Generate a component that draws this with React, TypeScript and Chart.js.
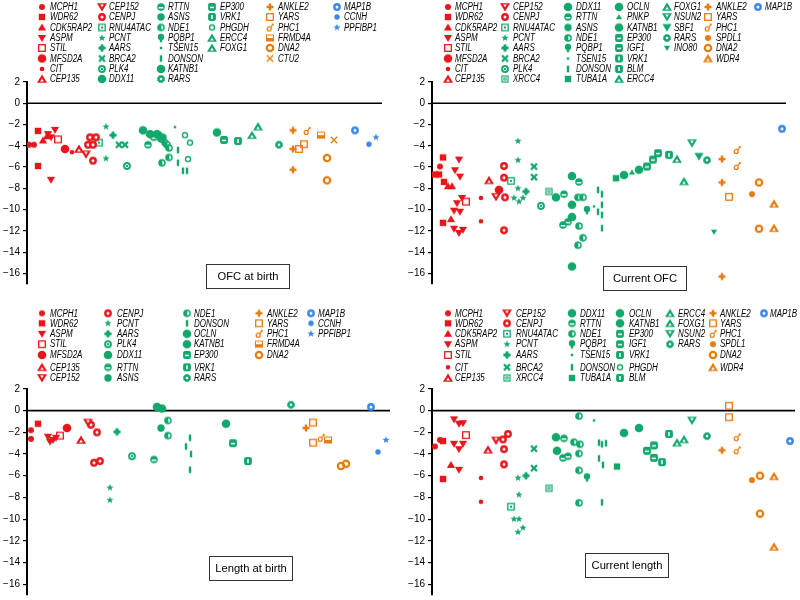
import React, { useEffect, useRef } from 'react';
import { Chart, registerables } from 'chart.js';
Chart.register(...registerables);

const RED = '#e8161b';
const GREEN = '#12a86c';
const ORANGE = '#e97b0c';
const BLUE = '#3a88e8';

const Y_TICKS = [2, 0, -2, -4, -6, -8, -10, -12, -14, -16];

type Pt = [string, number, number];

// [gene, position along row, z-score]
const OFC_BIRTH: Pt[] = [
  ['MCPH1', 2, -3.9], ['MCPH1', 7, -3.9],
  ['WDR62', 11, -2.6], ['WDR62', 11, -5.9],
  ['CDK5RAP2', 16, -3.5], ['CDK5RAP2', 20, -3.1],
  ['ASPM', 28, -2.5], ['ASPM', 21, -2.9], ['ASPM', 24, -3.2], ['ASPM', 24, -7.2],
  ['STIL', 31, -3.4], ['MFSD2A', 38, -4.3], ['CIT', 45, -4.6], ['CEP135', 52, -4.3], ['CEP152', 59, -4.8],
  ['CENPJ', 63, -3.2], ['CENPJ', 69, -3.2], ['CENPJ', 61, -3.9], ['CENPJ', 66, -3.9], ['CENPJ', 66, -5.4],
  ['RNU4ATAC', 72, -3.7], ['PCNT', 79, -2.2], ['PCNT', 79, -5.2], ['AARS', 86, -3.0],
  ['BRCA2', 92, -3.9], ['BRCA2', 98, -3.9], ['PLK4', 100, -5.9],
  ['DDX11', 116, -2.55], ['DDX11', 123, -2.9], ['DDX11', 130, -2.9],
  ['RTTN', 121, -3.9], ['RTTN', 127, -3.2],
  ['ASNS', 125, -3.0], ['ASNS', 132, -3.0], ['ASNS', 136, -3.2],
  ['NDE1', 134, -3.35], ['NDE1', 138, -3.7], ['NDE1', 140, -3.9], ['NDE1', 142, -4.2], ['NDE1', 142, -5.1], ['NDE1', 135, -5.6],
  ['TSEN15', 148, -2.25],
  ['DONSON', 151, -4.4], ['DONSON', 151, -5.6], ['DONSON', 156, -6.35], ['DONSON', 160, -6.35],
  ['PHGDH', 158, -3.0], ['PHGDH', 163, -3.7], ['PHGDH', 161, -5.25],
  ['KATNB1', 190, -2.75], ['EP300', 197, -3.45], ['VRK1', 211, -3.55], ['ERCC4', 225, -3.0], ['FOXG1', 231, -2.2],
  ['RARS', 252, -3.9],
  ['ANKLE2', 266, -2.55], ['ANKLE2', 266, -4.3], ['ANKLE2', 266, -6.25],
  ['YARS', 272, -4.3], ['YARS', 277, -3.85], ['PHC1', 280, -2.6], ['FRMD4A', 294, -3.0],
  ['DNA2', 300, -5.15], ['DNA2', 300, -7.25], ['CTU2', 307, -3.45],
  ['MAP1B', 328, -2.55], ['CCNH', 342, -3.85], ['PPFIBP1', 349, -3.2],
];

const CURRENT_OFC: Pt[] = [
  ['MCPH1', 8, -5.95],
  ['WDR62', 11, -5.1], ['WDR62', 3, -6.7], ['WDR62', 7, -6.7], ['WDR62', 12, -7.4], ['WDR62', 11, -11.25],
  ['CDK5RAP2', 16, -7.8], ['CDK5RAP2', 20, -7.8], ['CDK5RAP2', 19, -10.9],
  ['ASPM', 27, -5.3], ['ASPM', 23, -6.3], ['ASPM', 28, -6.9], ['ASPM', 30, -8.9], ['ASPM', 25, -9.4],
  ['ASPM', 22, -10.1], ['ASPM', 28, -10.2], ['ASPM', 22, -11.8], ['ASPM', 27, -12.2], ['ASPM', 31, -11.9],
  ['STIL', 34, -9.25], ['CIT', 49, -8.9], ['CIT', 49, -11.1], ['CEP135', 57, -7.25], ['CEP152', 64, -8.8],
  ['MFSD2A', 67, -8.15],
  ['CENPJ', 72, -5.9], ['CENPJ', 72, -7.0], ['CENPJ', 73, -8.85], ['CENPJ', 72, -11.95],
  ['RNU4ATAC', 79, -7.3],
  ['PCNT', 86, -3.55], ['PCNT', 86, -5.35], ['PCNT', 86, -8.0], ['PCNT', 82, -8.9], ['PCNT', 87, -9.25], ['PCNT', 91, -8.9],
  ['AARS', 94, -8.3], ['BRCA2', 102, -5.95], ['BRCA2', 102, -6.95], ['PLK4', 109, -9.65], ['XRCC4', 117, -8.3],
  ['DDX11', 124, -8.85], ['DDX11', 140, -6.85], ['DDX11', 140, -9.55], ['DDX11', 140, -10.7], ['DDX11', 140, -15.35],
  ['RTTN', 132, -8.55], ['RTTN', 147, -7.4], ['RTTN', 136, -11.15], ['RTTN', 131, -11.45],
  ['NDE1', 146, -8.85], ['NDE1', 151, -8.85], ['NDE1', 147, -11.55], ['NDE1', 151, -12.65], ['NDE1', 146, -13.35],
  ['PQBP1', 155, -10.05], ['TSEN15', 162, -9.7],
  ['DONSON', 166, -8.15], ['DONSON', 166, -10.2], ['DONSON', 170, -8.55], ['DONSON', 170, -9.55], ['DONSON', 170, -10.5], ['DONSON', 170, -11.75],
  ['TUBA1A', 184, -7.05], ['OCLN', 192, -6.75], ['PNKP', 200, -6.5], ['KATNB1', 207, -6.25],
  ['EP300', 215, -5.95], ['EP300', 221, -5.3], ['IGF1', 226, -4.7], ['VRK1', 237, -4.85],
  ['ERCC4', 245, -5.25], ['ERCC4', 252, -7.35], ['NSUN2', 260, -3.75], ['SBF1', 267, -5.0], ['RARS', 275, -5.35],
  ['INO80', 282, -12.1],
  ['ANKLE2', 290, -5.25], ['ANKLE2', 290, -7.45], ['ANKLE2', 290, -16.3],
  ['YARS', 297, -8.8], ['PHC1', 305, -4.4], ['PHC1', 305, -5.9], ['SPDL1', 320, -8.55],
  ['DNA2', 327, -7.45], ['DNA2', 327, -11.8], ['WDR4', 342, -9.45], ['WDR4', 342, -11.75],
  ['MAP1B', 350, -2.4],
];

const LENGTH_BIRTH: Pt[] = [
  ['MCPH1', 4, -1.8], ['MCPH1', 4, -2.6], ['WDR62', 11, -1.2],
  ['ASPM', 21, -2.4], ['ASPM', 23, -2.85], ['ASPM', 26, -2.7], ['ASPM', 29, -2.5],
  ['STIL', 33, -2.3], ['MFSD2A', 40, -1.6], ['CEP135', 54, -2.7], ['CEP152', 61, -1.1],
  ['CENPJ', 64, -1.3], ['CENPJ', 70, -2.0], ['CENPJ', 67, -4.8], ['CENPJ', 73, -4.65],
  ['PCNT', 83, -7.1], ['PCNT', 83, -8.25], ['AARS', 90, -1.95], ['PLK4', 105, -4.2],
  ['RTTN', 127, -4.5], ['DDX11', 130, 0.35], ['DDX11', 135, 0.2], ['ASNS', 134, -1.6],
  ['NDE1', 141, -0.9], ['NDE1', 141, -2.3],
  ['DONSON', 163, -2.5], ['DONSON', 159, -3.3], ['DONSON', 164, -4.0], ['DONSON', 163, -5.45],
  ['OCLN', 199, -1.2], ['EP300', 206, -3.0], ['VRK1', 221, -4.65], ['RARS', 264, 0.55],
  ['ANKLE2', 279, -1.6], ['YARS', 286, -1.1], ['YARS', 286, -2.95], ['PHC1', 294, -2.5], ['FRMD4A', 301, -2.7],
  ['DNA2', 314, -5.1], ['DNA2', 319, -4.9],
  ['MAP1B', 344, 0.35], ['CCNH', 351, -3.8], ['PPFIBP1', 359, -2.7],
];

const CURRENT_LENGTH: Pt[] = [
  ['MCPH1', 3, -3.3], ['MCPH1', 8, -2.7], ['WDR62', 11, -2.8], ['WDR62', 11, -6.3], ['CDK5RAP2', 19, -5.0],
  ['ASPM', 22, -0.8], ['ASPM', 27, -1.2], ['ASPM', 31, -1.15], ['ASPM', 22, -3.05], ['ASPM', 27, -3.55], ['ASPM', 31, -3.05], ['ASPM', 27, -5.45],
  ['STIL', 34, -2.25], ['CIT', 49, -6.2], ['CIT', 49, -8.4], ['CEP135', 56, -3.6], ['CEP152', 64, -2.75],
  ['CENPJ', 71, -2.65], ['CENPJ', 76, -2.15], ['CENPJ', 72, -3.55], ['CENPJ', 72, -4.95],
  ['RNU4ATAC', 79, -8.85],
  ['PCNT', 86, -6.2], ['PCNT', 87, -7.75], ['PCNT', 82, -10.0], ['PCNT', 87, -10.0], ['PCNT', 86, -11.2], ['PCNT', 91, -10.8],
  ['AARS', 94, -6.0], ['BRCA2', 102, -3.5], ['BRCA2', 102, -5.3], ['XRCC4', 117, -7.15],
  ['DDX11', 124, -2.45], ['DDX11', 125, -3.7],
  ['RTTN', 132, -2.55], ['RTTN', 131, -4.35], ['RTTN', 136, -4.2],
  ['NDE1', 147, -0.5], ['NDE1', 142, -2.9], ['NDE1', 148, -3.1], ['NDE1', 147, -3.95], ['NDE1', 147, -5.5], ['NDE1', 147, -8.5],
  ['PQBP1', 155, -6.15], ['TSEN15', 162, -0.9],
  ['DONSON', 167, -2.95], ['DONSON', 167, -4.4], ['DONSON', 170, -3.1], ['DONSON', 174, -3.0], ['DONSON', 171, -5.0], ['DONSON', 170, -8.45],
  ['TUBA1A', 185, -5.15], ['OCLN', 192, -2.05], ['KATNB1', 207, -1.6],
  ['EP300', 215, -3.7], ['EP300', 222, -4.35], ['IGF1', 222, -3.2], ['VRK1', 230, -4.75], ['BLM', 237, -2.15],
  ['ERCC4', 245, -2.95], ['FOXG1', 252, -2.65], ['NSUN2', 260, -0.9], ['RARS', 275, -2.35],
  ['ANKLE2', 290, -3.65], ['YARS', 297, 0.45], ['YARS', 297, -0.6], ['PHC1', 305, -2.45], ['PHC1', 305, -3.65],
  ['SPDL1', 320, -6.4], ['DNA2', 328, -6.0], ['DNA2', 328, -9.5], ['WDR4', 342, -6.05], ['WDR4', 342, -12.55],
  ['MAP1B', 358, -2.8],
];

const OFC_BIRTH_LEGEND = [
  ['MCPH1', 'WDR62', 'CDK5RAP2', 'ASPM', 'STIL', 'MFSD2A', 'CIT', 'CEP135'],
  ['CEP152', 'CENPJ', 'RNU4ATAC', 'PCNT', 'AARS', 'BRCA2', 'PLK4', 'DDX11'],
  ['RTTN', 'ASNS', 'NDE1', 'PQBP1', 'TSEN15', 'DONSON', 'KATNB1', 'RARS'],
  ['EP300', 'VRK1', 'PHGDH', 'ERCC4', 'FOXG1'],
  ['ANKLE2', 'YARS', 'PHC1', 'FRMD4A', 'DNA2', 'CTU2'],
  ['MAP1B', 'CCNH', 'PPFIBP1'],
];
const CURRENT_OFC_LEGEND = [
  ['MCPH1', 'WDR62', 'CDK5RAP2', 'ASPM', 'STIL', 'MFSD2A', 'CIT', 'CEP135'],
  ['CEP152', 'CENPJ', 'RNU4ATAC', 'PCNT', 'AARS', 'BRCA2', 'PLK4', 'XRCC4'],
  ['DDX11', 'RTTN', 'ASNS', 'NDE1', 'PQBP1', 'TSEN15', 'DONSON', 'TUBA1A'],
  ['OCLN', 'PNKP', 'KATNB1', 'EP300', 'IGF1', 'VRK1', 'BLM', 'ERCC4'],
  ['FOXG1', 'NSUN2', 'SBF1', 'RARS', 'INO80'],
  ['ANKLE2', 'YARS', 'PHC1', 'SPDL1', 'DNA2', 'WDR4'],
  ['MAP1B'],
];
const LENGTH_BIRTH_LEGEND = [
  ['MCPH1', 'WDR62', 'ASPM', 'STIL', 'MFSD2A', 'CEP135', 'CEP152'],
  ['CENPJ', 'PCNT', 'AARS', 'PLK4', 'DDX11', 'RTTN', 'ASNS'],
  ['NDE1', 'DONSON', 'OCLN', 'KATNB1', 'EP300', 'VRK1', 'RARS'],
  ['ANKLE2', 'YARS', 'PHC1', 'FRMD4A', 'DNA2'],
  ['MAP1B', 'CCNH', 'PPFIBP1'],
];
const CURRENT_LENGTH_LEGEND = [
  ['MCPH1', 'WDR62', 'CDK5RAP2', 'ASPM', 'STIL', 'CIT', 'CEP135'],
  ['CEP152', 'CENPJ', 'RNU4ATAC', 'PCNT', 'AARS', 'BRCA2', 'XRCC4'],
  ['DDX11', 'RTTN', 'NDE1', 'PQBP1', 'TSEN15', 'DONSON', 'TUBA1A'],
  ['OCLN', 'KATNB1', 'EP300', 'IGF1', 'VRK1', 'PHGDH', 'BLM'],
  ['ERCC4', 'FOXG1', 'NSUN2', 'RARS'],
  ['ANKLE2', 'YARS', 'PHC1', 'SPDL1', 'DNA2', 'WDR4'],
  ['MAP1B'],
];

const MARKER_STYLE: Record<string, [string, string]> = {
  MCPH1: ['circle', RED], WDR62: ['square', RED], CDK5RAP2: ['tri', RED], ASPM: ['invtri', RED],
  STIL: ['opensq', RED], MFSD2A: ['big', RED], CIT: ['small', RED], CEP135: ['trihole', RED],
  CEP152: ['invtrihole', RED], CENPJ: ['ringfill', RED],
  RNU4ATAC: ['sqdot', GREEN], PCNT: ['star', GREEN], AARS: ['plus', GREEN], BRCA2: ['xthick', GREEN],
  PLK4: ['ringdot', GREEN], XRCC4: ['xrcc4', GREEN], DDX11: ['big', GREEN], RTTN: ['rttn', GREEN],
  ASNS: ['mid', GREEN], NDE1: ['half', GREEN], PQBP1: ['bulb', GREEN], TSEN15: ['tiny', GREEN],
  DONSON: ['vbar', GREEN], TUBA1A: ['square', GREEN], KATNB1: ['big', GREEN], OCLN: ['big', GREEN],
  PNKP: ['smalltri', GREEN], RARS: ['octadot', GREEN], EP300: ['rsqh', GREEN], IGF1: ['rsqh', GREEN],
  VRK1: ['rsqv', GREEN], BLM: ['rsqv', GREEN], PHGDH: ['ring', GREEN], ERCC4: ['trihole', GREEN],
  FOXG1: ['trihole', GREEN], NSUN2: ['invtrihole', GREEN], SBF1: ['biginvtri', GREEN], INO80: ['smallinvtri', GREEN],
  ANKLE2: ['diamondplus', ORANGE], YARS: ['opensq', ORANGE], PHC1: ['male', ORANGE], FRMD4A: ['halfsq', ORANGE],
  DNA2: ['thickring', ORANGE], CTU2: ['xthin', ORANGE], SPDL1: ['circle', ORANGE], WDR4: ['trihole', ORANGE],
  MAP1B: ['ringfill', BLUE], CCNH: ['small2', BLUE], PPFIBP1: ['star', BLUE],
};

const TOP_ROWS = [7, 17, 27.5, 38, 48, 58.5, 69, 79];
const BOTTOM_ROWS = [13.3, 23.3, 33.8, 44.2, 55, 67.3, 78];

const PANELS = [
  { title: 'OFC at birth', data: OFC_BIRTH, legend: OFC_BIRTH_LEGEND, left: 0, top: 0, axisX: 27, areaTop: 82, areaBottom: 284, xMax: 355,
    rows: TOP_ROWS, mx: [42, 102, 161, 212, 270, 337], tx: [50, 109, 168, 220, 278, 344], box: [247, 264] },
  { title: 'Current OFC', data: CURRENT_OFC, legend: CURRENT_OFC_LEGEND, left: 400, top: 0, axisX: 32, areaTop: 82, areaBottom: 284, xMax: 354,
    rows: TOP_ROWS, mx: [48, 105, 168, 219, 267, 308, 358], tx: [55, 113, 176, 227, 274, 316, 365], box: [244, 266] },
  { title: 'Length at birth', data: LENGTH_BIRTH, legend: LENGTH_BIRTH_LEGEND, left: 0, top: 300, axisX: 27, areaTop: 89, areaBottom: 297, xMax: 363,
    rows: BOTTOM_ROWS, mx: [42, 108, 187, 259, 311], tx: [50, 117, 194, 267, 318], box: [250, 256] },
  { title: 'Current length', data: CURRENT_LENGTH, legend: CURRENT_LENGTH_LEGEND, left: 400, top: 300, axisX: 32, areaTop: 89, areaBottom: 297, xMax: 363,
    rows: BOTTOM_ROWS, mx: [48, 107, 172, 220, 270, 313, 364], tx: [55, 116, 180, 229, 278, 320, 370], box: [226, 253] },
];

function poly(g: CanvasRenderingContext2D, pts: number[][]) {
  g.beginPath();
  pts.forEach(([x, y], i) => (i ? g.lineTo(x, y) : g.moveTo(x, y)));
  g.closePath();
}
function disc(g: CanvasRenderingContext2D, x: number, y: number, r: number) {
  g.beginPath();
  g.arc(x, y, r, 0, Math.PI * 2);
}
function starPts(ro: number, ri: number) {
  const p: number[][] = [];
  for (let i = 0; i < 10; i++) {
    const a = -Math.PI / 2 + (i * Math.PI) / 5;
    const r = i % 2 ? ri : ro;
    p.push([Math.cos(a) * r, Math.sin(a) * r]);
  }
  return p;
}

function drawShape(g: CanvasRenderingContext2D, shape: string, color: string) {
  g.fillStyle = color;
  g.strokeStyle = color;
  const W = '#ffffff';
  switch (shape) {
    case 'circle': disc(g, 0, 0, 3); g.fill(); break;
    case 'big': disc(g, 0, 0, 4.3); g.fill(); break;
    case 'mid': disc(g, 0, 0, 3.7); g.fill(); break;
    case 'small': disc(g, 0, 0, 2.3); g.fill(); break;
    case 'small2': disc(g, 0, 0, 2.7); g.fill(); break;
    case 'tiny': g.fillRect(-1.2, -1.2, 2.4, 2.4); break;
    case 'square': g.fillRect(-3.2, -3.2, 6.4, 6.4); break;
    case 'tri': poly(g, [[0, -3.9], [4.1, 3], [-4.1, 3]]); g.fill(); break;
    case 'smalltri': poly(g, [[0, -2.9], [3.1, 2.3], [-3.1, 2.3]]); g.fill(); break;
    case 'invtri': poly(g, [[-4.1, -3], [4.1, -3], [0, 3.9]]); g.fill(); break;
    case 'biginvtri': poly(g, [[-4.6, -3.4], [4.6, -3.4], [0, 4.3]]); g.fill(); break;
    case 'smallinvtri': poly(g, [[-3.1, -2.3], [3.1, -2.3], [0, 2.9]]); g.fill(); break;
    case 'trihole':
      poly(g, [[0, -4.6], [5, 3.8], [-5, 3.8]]); g.fill();
      g.fillStyle = W; poly(g, [[0, -0.2], [1.8, 2.4], [-1.8, 2.4]]); g.fill(); break;
    case 'invtrihole':
      poly(g, [[-5, -3.8], [5, -3.8], [0, 4.6]]); g.fill();
      g.fillStyle = W; poly(g, [[-1.8, -2.4], [1.8, -2.4], [0, 0.2]]); g.fill(); break;
    case 'ringfill':
      disc(g, 0, 0, 3.9); g.fill(); g.fillStyle = W; disc(g, 0, 0, 1.5); g.fill(); break;
    case 'sqdot':
      g.lineWidth = 1.3; g.strokeRect(-3.2, -3.2, 6.4, 6.4); g.fillRect(-1, -1, 2, 2); break;
    case 'opensq':
      g.lineWidth = 1.3; g.strokeRect(-3.3, -3.3, 6.6, 6.6); break;
    case 'star': poly(g, starPts(3.8, 1.6)); g.fill(); break;
    case 'plus':
      g.fillRect(-3.6, -1.4, 7.2, 2.8); g.fillRect(-1.4, -3.6, 2.8, 7.2); disc(g, 0, 0, 2.3); g.fill(); break;
    case 'diamondplus':
      g.fillRect(-3.5, -1.2, 7, 2.4); g.fillRect(-1.2, -3.5, 2.4, 7);
      poly(g, [[0, -2.6], [2.6, 0], [0, 2.6], [-2.6, 0]]); g.fill(); break;
    case 'xthick':
      g.lineWidth = 2.4; g.beginPath(); g.moveTo(-3, -3); g.lineTo(3, 3); g.moveTo(3, -3); g.lineTo(-3, 3); g.stroke(); break;
    case 'xthin':
      g.lineWidth = 1.3; g.beginPath(); g.moveTo(-3.2, -3.2); g.lineTo(3.2, 3.2); g.moveTo(3.2, -3.2); g.lineTo(-3.2, 3.2); g.stroke(); break;
    case 'ringdot':
      disc(g, 0, 0, 3.9); g.fill(); g.strokeStyle = W; g.lineWidth = 0.9; disc(g, 0, 0, 1.7); g.stroke(); break;
    case 'rttn':
      disc(g, 0, 0, 3.8); g.fill(); g.fillStyle = W; g.fillRect(-2.3, 0, 4.6, 1.5); break;
    case 'half':
      disc(g, 0, 0, 3.8); g.fill(); g.fillStyle = W; g.beginPath(); g.arc(0.3, 0, 2.1, -Math.PI / 2, Math.PI / 2); g.closePath(); g.fill(); break;
    case 'bulb':
      disc(g, 0, -1, 3.2); g.fill(); g.fillRect(-1.2, 1, 2.4, 3.3); break;
    case 'vbar': g.fillRect(-1.2, -3.3, 2.4, 6.6); break;
    case 'rsqh':
      g.beginPath(); g.roundRect(-3.9, -3.9, 7.8, 7.8, 1.8); g.fill();
      g.fillStyle = W; g.fillRect(-2, -0.3, 4, 1.5); break;
    case 'rsqv':
      g.beginPath(); g.roundRect(-3.9, -3.9, 7.8, 7.8, 1.8); g.fill();
      g.fillStyle = W; g.fillRect(-0.75, -2, 1.5, 4); break;
    case 'ring': g.lineWidth = 1.4; disc(g, 0, 0, 2.5); g.stroke(); break;
    case 'octadot': {
      const p: number[][] = [];
      for (let i = 0; i < 8; i++) { const a = Math.PI / 8 + (i * Math.PI) / 4; p.push([Math.cos(a) * 4, Math.sin(a) * 4]); }
      poly(g, p); g.fill(); g.fillStyle = W; disc(g, 0, 0, 1.3); g.fill(); break;
    }
    case 'halfsq':
      g.lineWidth = 1; g.strokeRect(-3.5, -3, 7, 6); g.fillRect(-3.5, 0, 7, 3); break;
    case 'thickring': g.lineWidth = 2.2; disc(g, 0, 0, 3.2); g.stroke(); break;
    case 'male':
      g.lineWidth = 1.2; disc(g, -0.8, 1.4, 2); g.stroke();
      g.beginPath(); g.moveTo(0.6, -0.1); g.lineTo(2.6, -2.6); g.stroke();
      disc(g, 2.8, -2.9, 1.1); g.fill(); break;
    case 'xrcc4':
      g.fillRect(-3.6, -3.6, 7.2, 7.2); g.strokeStyle = W; g.lineWidth = 0.9;
      g.strokeRect(-2, -2, 4, 4); g.fillStyle = W; g.fillRect(-0.6, -0.6, 1.2, 1.2); break;
    default: disc(g, 0, 0, 3); g.fill();
  }
}

const markerCache = new Map<string, HTMLCanvasElement>();
function markerImage(gene: string): HTMLCanvasElement {
  const [shape, color] = MARKER_STYLE[gene] || ['circle', '#888'];
  const key = shape + color;
  const hit = markerCache.get(key);
  if (hit) return hit;
  const c = document.createElement('canvas');
  c.width = 16; c.height = 16;
  const g = c.getContext('2d')!;
  g.translate(8, 8);
  drawShape(g, shape, color);
  markerCache.set(key, c);
  return c;
}

const fmt = (v: number) => (v < 0 ? '\u2212' + Math.abs(v) : String(v));

function Panel({ cfg }: { cfg: typeof PANELS[number] }) {
  const ref = useRef<HTMLCanvasElement>(null);
  useEffect(() => {
    const genes: string[] = [];
    cfg.data.forEach(([g]) => { if (!genes.includes(g)) genes.push(g); });
    const datasets: any[] = genes.map((g) => ({
      label: g,
      data: cfg.data.filter((p) => p[0] === g).map((p) => ({ x: p[1], y: p[2] })),
      pointStyle: markerImage(g),
      pointRadius: 4,
      order: 1,
    }));
    datasets.push({
      label: 'zero',
      data: [{ x: 0, y: 0 }, { x: cfg.xMax, y: 0 }],
      showLine: true, borderColor: '#000', borderWidth: 1.7, pointRadius: 0, order: 100,
    });
    const overlay = {
      id: 'overlay',
      afterDraw(chart: any) {
        const ctx = chart.ctx as CanvasRenderingContext2D;
        ctx.save();
        ctx.font = 'italic 10px "Liberation Sans", Arial, sans-serif';
        ctx.textBaseline = 'middle';
        ctx.fillStyle = '#000';
        cfg.legend.forEach((col, ci) => col.forEach((g, ri) => {
          const y = cfg.rows[ri];
          ctx.drawImage(markerImage(g), cfg.mx[ci] - 8, y - 8);
          ctx.save();
          ctx.translate(cfg.tx[ci], y + 0.5);
          ctx.scale(0.8, 1);
          ctx.fillText(g, 0, 0);
          ctx.restore();
        }));
        // label box (fixed size, centred on the given x)
        ctx.font = '11.2px "Liberation Sans", Arial, sans-serif';
        const w = 83;
        const h = 24;
        const [cx, by] = cfg.box;
        const bx = Math.round(cx - w / 2);
        ctx.strokeStyle = '#333';
        ctx.lineWidth = 1;
        ctx.strokeRect(bx + 0.5, by + 0.5, w, h);
        ctx.textAlign = 'center';
        ctx.fillText(cfg.title, bx + 0.5 + w / 2, by + h / 2 + 1);
        ctx.restore();
      },
    };
    const chart = new Chart(ref.current!, {
      type: 'scatter',
      data: { datasets },
      options: {
        animation: false,
        responsive: false,
        events: [],
        layout: { padding: { left: 0, top: cfg.areaTop, right: 400 - cfg.axisX - cfg.xMax, bottom: 300 - cfg.areaBottom } },
        plugins: { legend: { display: false }, tooltip: { enabled: false } },
        scales: {
          x: { type: 'linear', display: false, min: 0, max: cfg.xMax },
          y: {
            type: 'linear', min: -17, max: 2,
            afterBuildTicks: (s: any) => { s.ticks = Y_TICKS.map((v) => ({ value: v })); },
            afterFit: (s: any) => { s.width = cfg.axisX; s.paddingTop = 0; s.paddingBottom = 0; },
            grid: { drawOnChartArea: false, drawTicks: true, tickLength: 4, color: '#000', lineWidth: 1.2 },
            border: { display: true, color: '#000', width: 2 },
            ticks: { color: '#000', padding: 3, font: { family: '"Liberation Sans", Arial, sans-serif', size: 10 }, callback: (v: any) => fmt(Number(v)) },
          },
        },
      } as any,
      plugins: [overlay],
    });
    return () => chart.destroy();
  }, []);
  return (
    <canvas ref={ref} width={400} height={300}
      style={{ position: 'absolute', left: cfg.left, top: cfg.top, width: 400, height: 300 }} />
  );
}

export default function App() {
  return (
    <div style={{ position: 'absolute', left: 0, top: 0, width: 800, height: 600, overflow: 'hidden', background: '#fff' }}>
      {PANELS.map((p) => <Panel key={p.title} cfg={p} />)}
    </div>
  );
}
